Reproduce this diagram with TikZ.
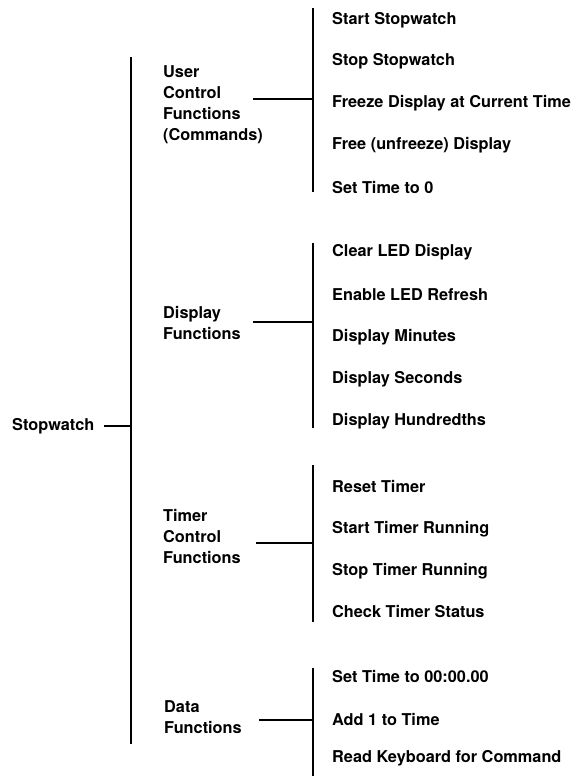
\documentclass[tikz,border=0pt]{standalone}
\usepackage{fontspec}
\setmainfont{TeX Gyre Heros}
\begin{document}
\begin{tikzpicture}[x=1pt,y=-1pt,
  lbl/.style={anchor=west,inner sep=0pt,font=\fontsize{16.3}{21}\selectfont\bfseries,align=left},
  ln/.style={line width=1.6pt,black},
  mainln/.style={line width=2pt,black}]
\useasboundingbox (0,0) rectangle (576,776);
% root
\node[lbl] (sw) at (12,426) {Stopwatch};
\coordinate (mtop) at (131,57);
\coordinate (mbot) at (131,744);
\draw[mainln] (mtop) -- (mbot);
\draw[ln,shorten <=9pt] (sw.east) -- (sw.east -| mtop);
% group labels
\node[lbl] (g1) at (163,104.5) {User\\Control\\Functions\\(Commands)};
\node[lbl] (g2) at (163,323) {Display\\Functions};
\node[lbl] (g3) at (163,536) {Timer\\Control\\Functions};
\node[lbl] (g4) at (164,717) {Data\\Functions};
% brackets
\coordinate (b1t) at (313,8);   \coordinate (b1b) at (313,192);
\coordinate (b2t) at (313,243); \coordinate (b2b) at (313,428);
\coordinate (b3t) at (313,465); \coordinate (b3b) at (313,622);
\coordinate (b4t) at (313,668); \coordinate (b4b) at (313,776);
\draw[ln] (b1t) -- (b1b);
\draw[ln] (b2t) -- (b2b);
\draw[ln] (b3t) -- (b3b);
\draw[ln] (b4t) -- (b4b);
% connectors from group labels to brackets
\coordinate (c1) at (253,99);
\coordinate (c2) at (253,322);
\coordinate (c3) at (256,543);
\coordinate (c4) at (259,720);
\draw[ln] (c1) -- (c1 -| b1t);
\draw[ln] (c2) -- (c2 -| b2t);
\draw[ln] (c3) -- (c3 -| b3t);
\draw[ln] (c4) -- (c4 -| b4t);
% items: user control functions
\node[lbl] (i11) at (332,20.7) {Start Stopwatch};
\node[lbl] (i12) at (332,61.7) {Stop Stopwatch};
\node[lbl] (i13) at (332,103) {Freeze Display at Current Time};
\node[lbl] (i14) at (332,145) {Free (unfreeze) Display};
\node[lbl] (i15) at (332,188) {Set Time to 0};
% display functions
\node[lbl] (i21) at (332,252) {Clear LED Display};
\node[lbl] (i22) at (332,295) {Enable LED Refresh};
\node[lbl] (i23) at (332,337) {Display Minutes};
\node[lbl] (i24) at (332,379) {Display Seconds};
\node[lbl] (i25) at (332,421) {Display Hundredths};
% timer control functions
\node[lbl] (i31) at (332,486) {Reset Timer};
\node[lbl] (i32) at (332,529) {Start Timer Running};
\node[lbl] (i33) at (332,571) {Stop Timer Running};
\node[lbl] (i34) at (332,612) {Check Timer Status};
% data functions
\node[lbl] (i41) at (332,677) {Set Time to 00:00.00};
\node[lbl] (i42) at (332,719) {Add 1 to Time};
\node[lbl] (i43) at (332,758) {Read Keyboard for Command};
\end{tikzpicture}
\end{document}
